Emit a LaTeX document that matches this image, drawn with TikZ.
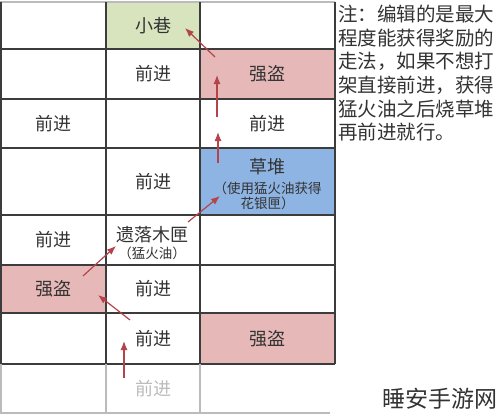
\documentclass[tikz,border=0pt]{standalone}
\usepackage{fontspec}
\setmainfont{Noto Sans CJK SC}
\usetikzlibrary{positioning}
\usetikzlibrary{arrows.meta}
\definecolor{xiangGreen}{HTML}{D7E4BD}
\definecolor{daoPink}{HTML}{E6B9B8}
\definecolor{duiBlue}{HTML}{8EB4E3}
\definecolor{jianRed}{HTML}{B5434A}
\definecolor{gridGray}{HTML}{3C3C3C}
\definecolor{fadeGray}{HTML}{BBBBBB}
\definecolor{inkGray}{HTML}{333333}

\begin{document}
\begin{tikzpicture}[x=1pt,y=-1pt,
 fillcell/.style={inner sep=0pt,outer sep=0pt,draw=none},
 txt/.style={inner sep=0pt,text=inkGray,font=\fontsize{18}{20}\selectfont},
 smalltxt/.style={inner sep=0pt,text=inkGray,align=center,font=\fontsize{13.5}{15}\selectfont},
 gridline/.style={gridGray,line width=1.5pt},
 fadeline/.style={fadeGray,line width=1.2pt},
 jian/.style={jianRed,line width=1.2pt,-{Latex[length=9pt,width=7pt]}}]
 \useasboundingbox[fill=white](0,0) rectangle (498,418);
 \node[fillcell,fill=xiangGreen,minimum width=94pt,minimum height=47pt] (xiangcell) at (153,25.5) {};
 \node[fillcell,fill=daoPink,minimum width=135pt,minimum height=50pt] (dao1cell) at (267.5,74) {};
 \node[fillcell,fill=duiBlue,minimum width=135pt,minimum height=67pt] (duicell) at (267.5,181.5) {};
 \node[fillcell,fill=daoPink,minimum width=105pt,minimum height=48pt] (dao2cell) at (53.5,289) {};
 \node[fillcell,fill=daoPink,minimum width=135pt,minimum height=51pt] (dao3cell) at (267.5,338.5) {};
 \draw[fadeline] (0,2) -- (335,2);
 \foreach \y in {49,99,148,215,265,313,364}
  \draw[gridline] (0,\y) -- (335,\y);
 \foreach \x in {1,106,200,335}
  \draw[gridline] (\x,2) -- (\x,364);
 \foreach \x in {1,106,200}
  \draw[fadeline] (\x,364) -- (\x,413);
 \draw[fadeline] (0,413) -- (330,413);
 \node[txt] (xiaoxiang) at (153,25.5) {小巷};
 \node[txt] (qianjin1) at (153,74) {前进};
 \node[txt] (qiangdao1) at (267.5,74) {强盗};
 \node[txt] (qianjin2) at (53.5,123.5) {前进};
 \node[txt] (qianjin3) at (267.5,123.5) {前进};
 \node[txt] (qianjin4) at (153,181.5) {前进};
 \node[txt] (caodui) at (267.5,167) {草堆};
 \node[smalltxt] (caoduinote) at (267.5,195.5) {（使用猛火油获得\\花银匣）};
 \node[txt] (qianjin5) at (53.5,240) {前进};
 \node[txt] (muxia) at (152,235) {遗落木匣};
 \node[smalltxt] (muxianote) at (152,253) {（猛火油）};
 \node[txt] (qiangdao2) at (53.5,289) {强盗};
 \node[txt] (qianjin6) at (153,289) {前进};
 \node[txt] (qianjin7) at (153,338.5) {前进};
 \node[txt] (qiangdao3) at (267.5,338.5) {强盗};
 \node[txt,text=fadeGray] (qianjin8) at (153,389) {前进};
 \node[inner sep=0pt,anchor=north west,align=left,text=inkGray,font=\fontsize{19.5}{23.6}\selectfont] (zhu) at (338,5)
  {注：编辑的是最大\\程度能获得奖励的\\走法，如果不想打\\架直接前进，获得\\猛火油之后烧草堆\\再前进就行。};
 \node[inner sep=0pt,text=inkGray,font=\fontsize{23}{25}\selectfont] (shuian) at (440,399) {睡安手游网};
 \coordinate (p1a) at (124,378); \coordinate (p1b) at (124,341);
 \coordinate (p2a) at (130,320); \coordinate (p2b) at (98,295);
 \coordinate (p3a) at (83,276); \coordinate (p3b) at (116,246);
 \coordinate (p4a) at (188,222); \coordinate (p4b) at (220,196);
 \coordinate (p5a) at (218,163); \coordinate (p5b) at (218,132);
 \coordinate (p6a) at (217,117); \coordinate (p6b) at (217,75);
 \coordinate (p7a) at (215,57); \coordinate (p7b) at (185,28);
 \draw[jian] (p1a) -- (p1b);
 \draw[jian] (p2a) -- (p2b);
 \draw[jian] (p3a) -- (p3b);
 \draw[jian] (p4a) -- (p4b);
 \draw[jian] (p5a) -- (p5b);
 \draw[jian] (p6a) -- (p6b);
 \draw[jian] (p7a) -- (p7b);
\end{tikzpicture}
\end{document}
